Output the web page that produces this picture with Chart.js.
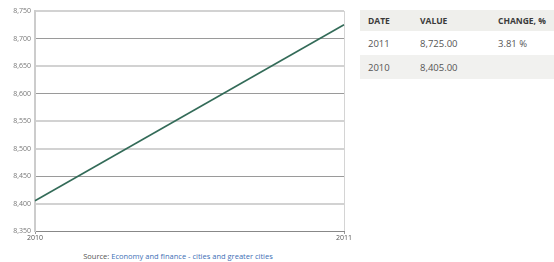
<!DOCTYPE html>
<html>
<head>
<meta charset="utf-8">
<script src="https://cdn.jsdelivr.net/npm/chart.js@4/dist/chart.umd.min.js"></script>
<style>
  html, body { margin: 0; padding: 0; background: #fff; width: 554px; height: 262px; overflow: hidden; font-family: "Open Sans", "Noto Sans", sans-serif; }
  #wrap { position: absolute; left: 0; top: 0; width: 360px; height: 245px; }
  #source { position: absolute; left: 0; top: 251px; width: 356px; text-align: center; font-size: 7.5px; color: #555; }
  #source a { color: #3d6fb6; text-decoration: none; }
  table { position: absolute; left: 360px; top: 10px; width: 194px; border-collapse: collapse; font-size: 9.5px; color: #555; }
  th { background: #efefec; height: 21px; padding: 0; text-align: left; font-weight: bold; font-size: 8.5px; color: #3a3a3a; }
  td { height: 24px; padding: 0; }
  tr.alt td { background: #f1f1ef; }
  .c1 { padding-left: 8px; width: 52px; }
  .c2 { width: 78px; }
</style>
</head>
<body>
<div id="wrap"><canvas id="c" width="360" height="245"></canvas></div>
<div id="source">Source: <a>Economy and finance - cities and greater cities</a></div>
<table id="tbl"></table>
<script>
const years = ["2010", "2011"];
const values = [8405, 8725];
const yTicks = [8350, 8400, 8450, 8500, 8550, 8600, 8650, 8700, 8750];
const tableDates = ["2011", "2010"];
const tableValues = ["8,725.00", "8,405.00"];
const tableChanges = ["3.81 %", ""];
const darkLines = [8350, 8450, 8600, 8700];

// table
const tbl = document.getElementById('tbl');
let html = '<tr><th class="c1">DATE</th><th class="c2">VALUE</th><th>CHANGE, %</th></tr>';
tableDates.forEach((d, i) => {
  html += '<tr' + (i % 2 === 1 ? ' class="alt"' : '') + '><td class="c1">' + d + '</td><td class="c2">' + tableValues[i] + '</td><td>' + tableChanges[i] + '</td></tr>';
});
tbl.innerHTML = html;

new Chart(document.getElementById('c'), {
  type: 'line',
  data: {
    labels: years,
    datasets: [{
      data: values,
      borderColor: '#336b58',
      borderWidth: 1.6,
      pointRadius: 0,
      tension: 0,
      fill: false
    }]
  },
  options: {
    responsive: false,
    animation: false,
    events: [],
    layout: { padding: { top: 11, right: 16, left: 0, bottom: 0 } },
    plugins: { legend: { display: false }, tooltip: { enabled: false } },
    scales: {
      x: {
        type: 'category',
        offset: false,
        grid: {
          color: '#d4d4d4',
          lineWidth: 1,
          drawTicks: true,
          tickLength: 3,
          tickColor: '#999'
        },
        border: { color: '#888', width: 1 },
        ticks: {
          font: { family: 'Open Sans', size: 7 },
          color: '#555',
          padding: 0,
          maxRotation: 0,
          autoSkip: false
        },
        afterFit: s => { s.height = 14; }
      },
      y: {
        min: 8350,
        max: 8750,
        afterBuildTicks: s => { s.ticks = yTicks.map(v => ({ value: v })); },
        grid: {
          color: ctx => darkLines.includes(ctx.tick && ctx.tick.value) ? '#9a9a9a' : '#d2d2d2',
          lineWidth: ctx => darkLines.includes(ctx.tick && ctx.tick.value) ? 1 : 2,
          drawTicks: false
        },
        border: { color: '#cccccc', width: 2 },
        ticks: {
          font: { family: 'Open Sans', size: 7 },
          color: '#777',
          padding: 4,
          callback: v => v.toLocaleString('en-US')
        },
        afterFit: s => { s.width = 35; }
      }
    }
  }
});
</script>
</body>
</html>
